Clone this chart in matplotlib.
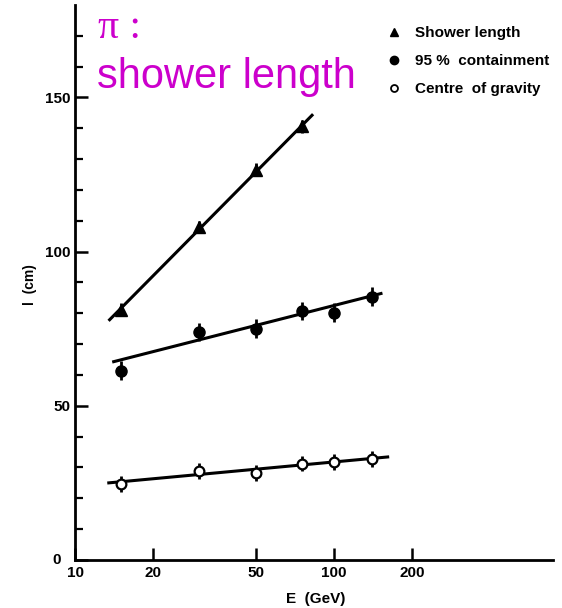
import numpy as np
import matplotlib as mlp
mlp.use("Agg")
import matplotlib.pyplot as plt
from matplotlib.lines import Line2D

# energies (GeV) and measured lengths (cm)
E_shower = [15, 30, 50, 75]
l_shower = [81.2, 108.0, 126.6, 140.6]
err_shower = [2.0, 2.0, 2.0, 2.0]

E_cont = [15, 30, 50, 75, 100, 140]
l_cont = [61.4, 74.0, 75.0, 80.8, 80.2, 85.4]
err_cont = [3.0, 3.0, 3.0, 3.0, 3.0, 3.0]

E_cog = [15, 30, 50, 75, 100, 140]
l_cog = [24.7, 28.9, 28.2, 31.2, 31.8, 32.8]
err_cog = [2.5, 2.5, 2.5, 2.5, 2.5, 2.5]

# straight-line fits in l vs log E, given by their end points
fit_shower_E = [13.6, 82.2]
fit_shower_l = [77.9, 144.2]
fit_cont_E = [14.1, 151.7]
fit_cont_l = [64.3, 86.4]
fit_cog_E = [13.5, 161.0]
fit_cog_l = [25.0, 33.4]

xticks = [10, 20, 50, 100, 200]
yticks = [0, 50, 100, 150]

font = "Liberation Sans"
fig = plt.figure(figsize=(5.62, 6.08), dpi=100)
ax = fig.add_axes([0.1335, 0.079, 0.8505, 0.913])

ax.plot(fit_shower_E, fit_shower_l, "k-", lw=2.2)
ax.plot(fit_cont_E, fit_cont_l, "k-", lw=2.2)
ax.plot(fit_cog_E, fit_cog_l, "k-", lw=2.2)

ax.errorbar(E_shower, l_shower, yerr=err_shower, fmt="^", color="k", ms=8, elinewidth=2, capsize=0)
ax.errorbar(E_cont, l_cont, yerr=err_cont, fmt="o", color="k", ms=8, elinewidth=2, capsize=0)
ax.errorbar(E_cog, l_cog, yerr=err_cog, fmt="o", color="k", mfc="white", mec="k", mew=1.6,
            ms=7, elinewidth=2, capsize=0)

ax.set_xscale("log")
ax.set_xlim(10, 700)
ax.set_ylim(0, 180)
ax.set_xticks(xticks)
ax.set_xticklabels([str(t) for t in xticks])
ax.xaxis.set_minor_locator(plt.NullLocator())
ax.set_yticks(yticks)
ax.set_yticks(np.arange(10, 180, 10), minor=True)

for s in ["top", "right"]:
    ax.spines[s].set_visible(False)
for s in ["left", "bottom"]:
    ax.spines[s].set_linewidth(2)

ax.tick_params(axis="both", which="major", direction="in", length=9, width=1.8, pad=4)
ax.tick_params(axis="y", which="major", pad=3)
ax.tick_params(axis="y", which="minor", direction="in", length=6, width=1.6)
for lab in ax.get_xticklabels() + ax.get_yticklabels():
    lab.set_fontfamily(font)
    lab.set_fontweight("bold")
    lab.set_fontsize(11)
ax.get_yticklabels()[0].set_verticalalignment("center")
ax.get_yticklabels()[0].set_x(-0.02)

ax.set_xlabel("E  (GeV)", fontfamily=font, fontweight="bold", fontsize=11)
ax.set_ylabel("l  (cm)", fontfamily=font, fontweight="bold", fontsize=10)
ax.xaxis.set_label_coords(0.504, -0.058)
ax.yaxis.set_label_coords(-0.08, 0.497)

# title in magenta
fig.text(0.174, 0.937, "\u03c0 :", color="#cc00cc", fontsize=30, fontfamily="Liberation Serif")
fig.text(0.172, 0.855, "shower length", color="#cc00cc", fontsize=30, fontfamily=font)

handles = [
    Line2D([], [], ls="none", marker="^", color="k", ms=6),
    Line2D([], [], ls="none", marker="o", color="k", ms=6),
    Line2D([], [], ls="none", marker="o", mfc="white", mec="k", mew=1.3, ms=5),
]
labels = ["Shower length", "95 %  containment", "Centre  of gravity"]
leg = fig.legend(handles, labels, loc="upper left", bbox_to_anchor=(0.663, 0.98), frameon=False,
                 prop={"family": font, "weight": "bold", "size": 11}, handletextpad=0.9,
                 labelspacing=0.92, handlelength=1.0)

plt.savefig("out.png", dpi=100)
